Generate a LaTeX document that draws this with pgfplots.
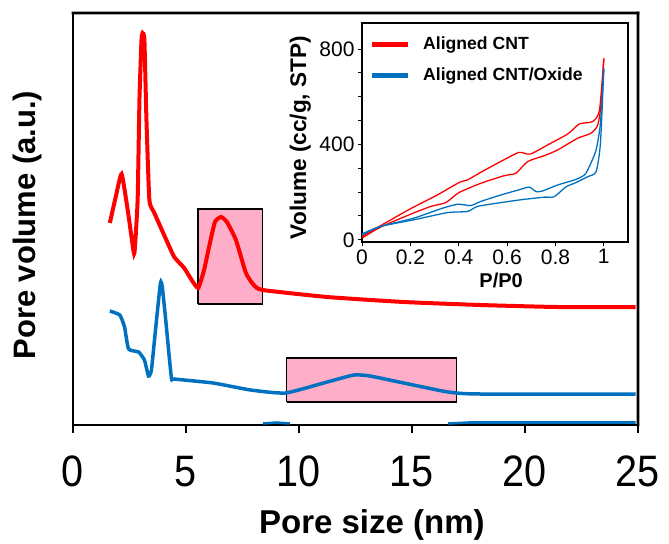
\documentclass[border=0pt]{standalone}
\usepackage{pgfplots}
\pgfplotsset{compat=1.18}
\usepackage{graphicx}
\usepackage{fontspec}
\setmainfont{Liberation Sans}
\usetikzlibrary{calc}
\definecolor{cred}{RGB}{255,0,0}
\definecolor{cblue}{RGB}{0,112,192}
\definecolor{cpink}{RGB}{255,174,201}
\begin{document}
\begin{tikzpicture}
\begin{axis}[name=main, scale only axis, width=565pt, height=412pt,
  xmin=0, xmax=25, ymin=0, ymax=412, clip=false,
  axis lines=box,
  axis line style={line width=2.6pt, black},
  xtick={0,5,...,25}, ytick=\empty,
  tick align=outside, xtick pos=lower, major tick length=8pt,
  every tick/.style={line width=2.4pt, black},
  /pgf/number format/assume math mode=true,
  xticklabel={\scalebox{0.9}[1]{\pgfmathprintnumber{\tick}}},
  xticklabel style={font=\fontsize{44}{44}\selectfont, anchor=base, yshift=-53pt},
  xlabel={Pore size (nm)},
  xlabel style={font=\fontsize{33}{33}\selectfont\bfseries, at={(axis description cs:0.529,0)}, anchor=center, yshift=-100pt},
  ylabel={Pore volume (a.u.)},
  ylabel style={font=\fontsize{31}{31}\selectfont\bfseries, at={(axis description cs:-0.0655,0.485)}, anchor=base},
]
% frame bands (top and right sides), drawn as filled areas
\addplot[fill=black, draw=none] coordinates {(-0.057,410.7) (25.057,410.7) (25.057,413.3) (-0.057,413.3) (-0.057,410.7)};
\addplot[fill=black, draw=none] coordinates {(24.943,-1.3) (25.057,-1.3) (25.057,413.3) (24.943,413.3) (24.943,-1.3)};
% highlight boxes
\addplot[draw=black, line width=1.5pt, fill=cpink] coordinates {(5.54,121) (8.39,121) (8.39,216) (5.54,216) (5.54,121)};
\addplot[draw=black, line width=1.5pt, fill=cpink] coordinates {(9.45,23) (16.96,23) (16.96,67) (9.45,67) (9.45,23)};
% faint curve at the bottom
\addplot[cblue, line width=2.5pt] coordinates {(8.4,1.5) (9.0,2.5) (9.6,1.5)};
\addplot[cblue, line width=2.5pt] coordinates {(16.6,1.5) (17.5,2.5) (24.9,2.5)};
% Aligned CNT
\addplot[cred, line width=4pt, smooth, tension=0.3] coordinates {
(1.63,202) (1.89,228) (2.15,251) (2.42,215) (2.64,180) (2.72,172) (2.86,225)
(2.94,325) (3.03,385) (3.08,392) (3.16,385) (3.25,305) (3.38,225) (3.60,212)
(4.13,185) (4.48,168) (4.92,157) (5.25,145) (5.54,137) (5.80,155) (6.02,178) (6.28,203)
(6.55,208) (6.81,203) (7.21,185) (7.65,152) (8.00,140) (8.39,135) (11.25,128)
(14.63,123) (18.01,120) (21.40,118) (24.9,118)};
% Aligned CNT/Oxide
\addplot[cblue, line width=3.5pt, smooth, tension=0.3] coordinates {
(1.63,114) (2.07,110) (2.28,98) (2.46,76) (2.90,73) (3.16,65) (3.34,49)
(3.47,55) (3.65,95) (3.87,142) (3.95,138) (4.09,108) (4.35,48) (4.48,46)
(6.20,42) (7.86,35) (9.40,32) (11.25,43) (12.43,50) (13.14,49) (14.63,42)
(16.34,34) (16.96,32) (18.01,31) (24.9,31)};
\end{axis}
\path ($(main.south west)+(-73pt,-117pt)$) rectangle ($(main.south west)+(596pt,425pt)$);
\begin{axis}[name=inset, at={($(main.south west)+(289pt,183pt)$)}, anchor=south west,
  scale only axis, width=266pt, height=219pt,
  xmin=0, xmax=1.1, ymin=-9, ymax=909,
  axis line style={line width=1.8pt},
  xtick={0,0.2,...,1}, ytick={0,400,800}, minor ytick={100,200,300,500,600,700},
  tick align=outside, xtick pos=lower, ytick pos=left,
  major tick length=4pt, minor tick length=4pt,
  every tick/.style={line width=1pt, black},
  /pgf/number format/assume math mode=true,
  ticklabel style={font=\fontsize{21}{21}\selectfont},
  xlabel={P/P0},
  xlabel style={font=\fontsize{20}{20}\selectfont\bfseries, at={(axis description cs:0.523,-0.1735)}, anchor=center},
  ylabel={Volume (cc/g, STP)},
  ylabel style={font=\fontsize{22.6}{22.6}\selectfont\bfseries, at={(axis description cs:-0.2105,0.477)}, anchor=base},
  legend image code/.code={\draw[#1] (0pt,0pt) -- (36pt,0pt);},
  legend style={draw=none, fill=none, at={(axis description cs:0.015,0.954)}, anchor=north west,
    font=\fontsize{17.6}{17.6}\selectfont\bfseries, row sep=13pt, column sep=13pt,
    nodes={inner sep=0pt, text height=14pt, text depth=4pt}},
  legend cell align=left,
]
\addlegendimage{cred, line width=5pt}
\addlegendentry{Aligned CNT}
\addlegendimage{cblue, line width=5pt}
\addlegendentry{Aligned CNT/Oxide}
% red adsorption
\addplot[cred, line width=1.3pt, smooth, tension=0.4, forget plot] coordinates {
(0,7) (0.076,53) (0.2,107) (0.284,140) (0.346,156) (0.401,198) (0.491,237) (0.588,269)
(0.636,279) (0.685,328) (0.754,353) (0.809,377) (0.892,426) (0.947,447) (0.975,482)
(0.989,572) (1,761)};
% red desorption
\addplot[cred, line width=1.3pt, smooth, tension=0.4, forget plot] coordinates {
(0,14) (0.076,59) (0.2,130) (0.311,188) (0.401,240) (0.436,251) (0.491,283) (0.56,321)
(0.646,366) (0.671,363) (0.698,360) (0.768,398) (0.851,444) (0.899,486) (0.954,496)
(0.982,544) (1,761)};
% blue desorption
\addplot[cblue, line width=1.3pt, smooth, tension=0.4, forget plot] coordinates {
(0,25) (0.076,56) (0.214,91) (0.325,130) (0.394,149) (0.45,144) (0.491,161) (0.574,188)
(0.657,212) (0.692,221) (0.72,202) (0.747,205) (0.809,230) (0.878,251) (0.92,272)
(0.94,307) (0.968,377) (0.986,489) (1,719)};
% blue adsorption
\addplot[cblue, line width=1.3pt, smooth, tension=0.4, forget plot] coordinates {
(0,21) (0.076,56) (0.214,84) (0.353,114) (0.436,119) (0.477,140) (0.56,154) (0.657,168)
(0.754,179) (0.795,181) (0.844,223) (0.878,237) (0.934,265) (0.968,286) (0.986,405)
(1,719)};
\end{axis}
\end{tikzpicture}
\end{document}
